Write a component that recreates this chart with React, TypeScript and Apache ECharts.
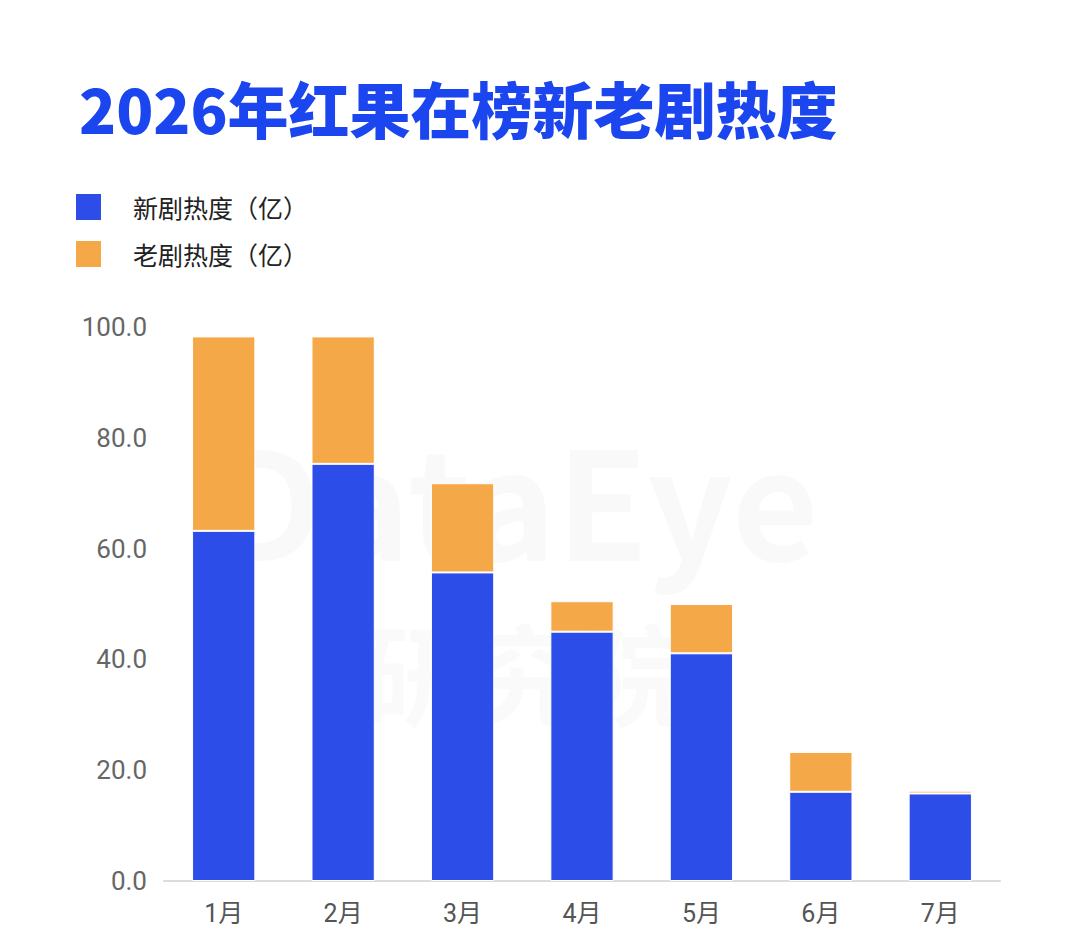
import React, { useEffect, useRef } from "react";
import * as echarts from "echarts";

const TITLE = "2026年红果在榜新老剧热度";
const categories = ["1月", "2月", "3月", "4月", "5月", "6月", "7月"];
const newDramaName = "新剧热度（亿）";
const oldDramaName = "老剧热度（亿）";
const newDrama = [63.2, 75.3, 55.7, 45.0, 41.1, 16.1, 15.8];
const oldDrama = [35.1, 23.0, 16.1, 5.5, 8.9, 7.2, 0.5];

const BLUE = "#2c4de8";
const ORANGE = "#f5a847";
const FONT = "'Noto Sans CJK SC', 'Noto Sans', sans-serif";
const NUM_FONT = "Roboto, 'Noto Sans CJK SC', sans-serif";

export default function App() {
  const ref = useRef<HTMLDivElement>(null);
  useEffect(() => {
    if (!ref.current) return;
    const chart = echarts.init(ref.current, null, { renderer: "svg" });
    chart.setOption({
      animation: false,
      backgroundColor: "#ffffff",
      title: {
        text: TITLE,
        left: 74,
        top: 72,
        textStyle: {
          fontFamily: FONT,
          fontSize: 61,
          fontWeight: 900,
          color: "#1b45ee",
        },
      },
      legend: {
        orient: "vertical",
        left: 69,
        top: 187,
        itemWidth: 27,
        itemHeight: 28,
        itemGap: 17,
        icon: "rect",
        textStyle: {
          fontFamily: FONT,
          fontSize: 25,
          color: "#222",
          padding: [0, 0, 0, 26],
        },
        data: [newDramaName, oldDramaName],
      },
      graphic: [
        {
          type: "text",
          left: 215,
          top: 420,
          silent: true,
          style: {
            text: "DataEye",
            font: `bold 150px ${FONT}`,
            fill: "rgba(0,0,0,0.022)",
          },
        },
        {
          type: "text",
          left: 360,
          top: 615,
          silent: true,
          style: {
            text: "研究院",
            font: `bold 110px ${FONT}`,
            fill: "rgba(0,0,0,0.018)",
          },
        },
      ],
      grid: { left: 164, right: 80, top: 327, bottom: 65 },
      xAxis: {
        type: "category",
        data: categories,
        axisLine: { lineStyle: { color: "#dcdcdc", width: 2 } },
        axisTick: { show: false },
        axisLabel: {
          fontFamily: NUM_FONT,
          fontSize: 25,
          color: "#555",
          margin: 20,
        },
      },
      yAxis: {
        type: "value",
        min: 0,
        max: 100,
        interval: 20,
        axisLine: { show: false },
        axisTick: { show: false },
        splitLine: { show: false },
        axisLabel: {
          fontFamily: NUM_FONT,
          fontSize: 26,
          color: "#666",
          margin: 17,
          formatter: (v: number) => v.toFixed(1),
        },
      },
      series: [
        {
          name: newDramaName,
          type: "bar",
          stack: "total",
          data: newDrama,
          barWidth: "53%",
          itemStyle: { color: BLUE, borderColor: "#ffffff", borderWidth: 1 },
        },
        {
          name: oldDramaName,
          type: "bar",
          stack: "total",
          data: oldDrama,
          barWidth: "53%",
          itemStyle: { color: ORANGE, borderColor: "#ffffff", borderWidth: 1 },
        },
      ],
    });
    return () => chart.dispose();
  }, []);
  return (
    <div
      ref={ref}
      style={{ position: "absolute", left: 0, top: 0, width: 1080, height: 946 }}
    />
  );
}
